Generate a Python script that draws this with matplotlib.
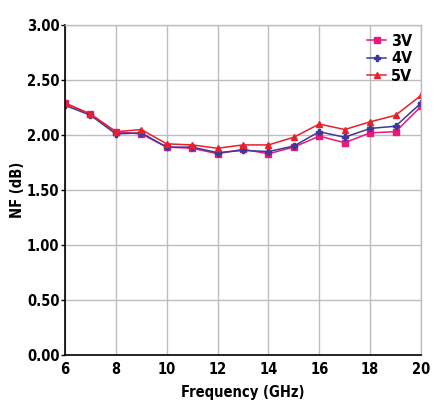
import matplotlib
matplotlib.use("Agg")
import matplotlib.pyplot as plt

freq = [6, 7, 8, 9, 10, 11, 12, 13, 14, 15, 16, 17, 18, 19, 20]
nf_3v = [2.29, 2.19, 2.03, 2.01, 1.89, 1.88, 1.83, 1.87, 1.83, 1.89, 1.99, 1.93, 2.02, 2.03, 2.26]
nf_4v = [2.27, 2.18, 2.01, 2.02, 1.89, 1.89, 1.84, 1.86, 1.85, 1.90, 2.03, 1.98, 2.06, 2.08, 2.29]
nf_5v = [2.29, 2.19, 2.03, 2.05, 1.92, 1.91, 1.88, 1.91, 1.91, 1.98, 2.10, 2.05, 2.12, 2.18, 2.36]
xticks = [6, 8, 10, 12, 14, 16, 18, 20]
yticks = [0.0, 0.5, 1.0, 1.5, 2.0, 2.5, 3.0]

plt.rcParams['font.family'] = ['DejaVu Sans']
plt.rcParams['font.weight'] = 'bold'
plt.rcParams['font.stretch'] = 'condensed'

fig = plt.figure(figsize=(4.34, 4.04), dpi=100)
ax = fig.add_axes([0.1498, 0.1213, 0.8202, 0.8167])

ax.plot(freq, nf_3v, color='#e8197a', marker='s', markersize=4, linewidth=1.1, label='3V')
ax.plot(freq, nf_4v, color='#3a3a9a', marker='P', markersize=4, linewidth=1.1, label='4V')
ax.plot(freq, nf_5v, color='#e8202a', marker='^', markersize=4.5, linewidth=1.1, label='5V')

ax.set_xlim(6, 20)
ax.set_ylim(0, 3)
ax.set_xticks(xticks)
ax.set_yticks(yticks)
ax.set_yticklabels([f"{v:.2f}" for v in yticks])
ax.grid(True, color='#bdbdbd', linewidth=1.0)
ax.set_axisbelow(True)
for s in ['top', 'right']:
    ax.spines[s].set_color('#bdbdbd')
    ax.spines[s].set_linewidth(1.0)
for s in ['left', 'bottom']:
    ax.spines[s].set_color('black')
    ax.spines[s].set_linewidth(1.2)
ax.tick_params(axis='both', labelsize=10.5, length=3, width=1, color='black')
ax.tick_params(axis='x', length=0, pad=5)
ax.tick_params(axis='y', pad=1)
for lab in ax.get_xticklabels() + ax.get_yticklabels():
    lab.set_fontweight('bold')
    lab.set_fontstretch('condensed')

ax.set_xlabel('Frequency (GHz)', fontsize=10.5, fontweight='bold', labelpad=6)
ax.set_ylabel('NF (dB)', fontsize=10.5, fontweight='bold', labelpad=1)

leg = ax.legend(loc='upper right', frameon=False, handlelength=1.2,
                handletextpad=0.3, labelspacing=0.15, borderaxespad=0.15,
                prop={'weight': 'bold', 'size': 11.5, 'stretch': 'condensed'})

fig.savefig('out.png', dpi=100)
